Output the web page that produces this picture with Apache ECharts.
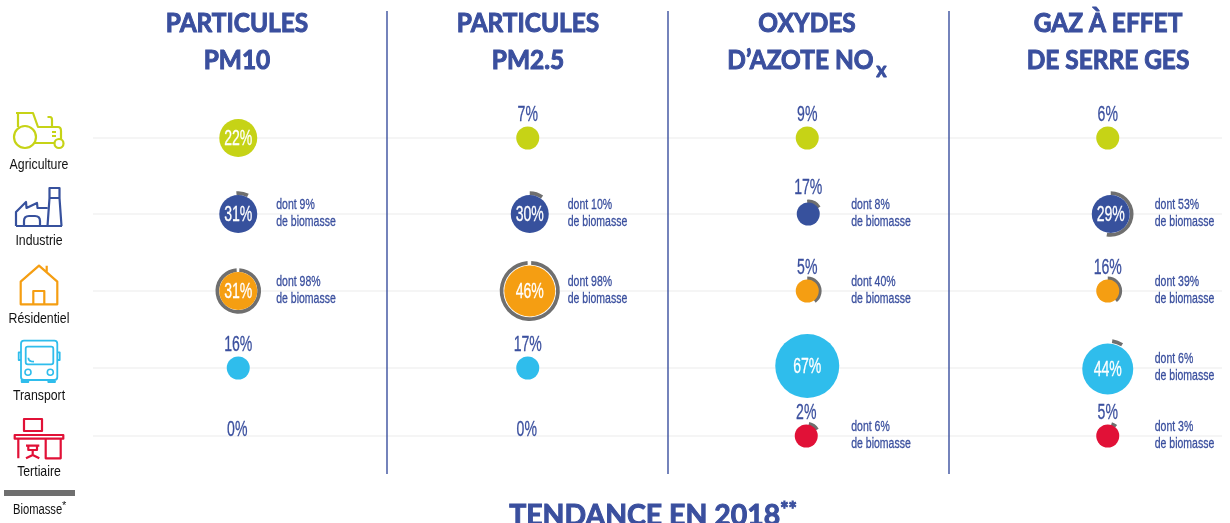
<!DOCTYPE html>
<html><head><meta charset="utf-8">
<style>html,body{margin:0;padding:0;background:#fff}#c{width:1230px;height:523px}</style>
<script src="https://cdn.jsdelivr.net/npm/echarts@6/dist/echarts.min.js"></script>
</head><body><div id="c"></div>
<script>
const sectors = ['Agriculture','Industrie','Résidentiel','Transport','Tertiaire'];
const panels = ['PM10','PM2.5','NOx','GES'];
const pm10 = [22,31,31,16,0];
const pm10Biomass = [0,9,98,0,0];
const pm25 = [7,30,46,17,0];
const pm25Biomass = [0,10,98,0,0];
const nox = [9,17,5,67,2];
const noxBiomass = [0,8,40,0,6];
const ges = [6,29,16,44,5];
const gesBiomass = [0,53,39,6,3];

const BLUE='#3a4f9e', GREY='#6f6f6f', FONT='"Liberation Sans",sans-serif', TITLE='Lato,sans-serif';
const sectorColors=['#c6d316','#37519d','#f59e12','#2fbdec','#e11137'];
const panelNudge=[4,9,4,20];
const rowNudge=[0,1,3,5,-2];
const cellNudge={'1,1':[2,0],'1,2':[2,0],'2,1':[1,0],'2,3':[0,-2],'2,4':[-1,0],'3,1':[3,0],'3,3':[0,1]};
const arcTurn={'0,1':-5,'2,1':-5,'3,3':9,'2,4':12,'3,4':17};

const seriesSets=[[pm10,pm10Biomass],[pm25,pm25Biomass],[nox,noxBiomass],[ges,gesBiomass]];
const cells=[];
seriesSets.forEach((s,p)=>s[0].forEach((v,r)=>cells.push([p,r,v,s[1][r]])));

function bubble(v){return v===0?0:v<20?11.5:v<35?19:v<50?25.5:32;}
function cond(x,y,text,size,fill,sx,align,weight){
  return {type:'group',x,y,scaleX:sx,z2:5,children:[{type:'text',style:{x:0,y:0,text,fill,stroke:weight?fill:null,lineWidth:weight||0,font:size+'px '+FONT,textAlign:align||'center',textVerticalAlign:'middle'},z2:5}]};
}
function renderCell(params,api){
  const p=api.value(0),r=api.value(1),v=api.value(2),b=api.value(3);
  const c=api.coord([p,r]);
  const key=p+','+r, n=cellNudge[key]||[0,0];
  const baseX=c[0]+panelNudge[p], rowY=c[1]+rowNudge[r];
  const x=baseX+n[0], y=rowY+n[1];
  const R=bubble(v), kids=[];
  if(b>0){
    const outer=R*1.12+1.5, off=b>=90?0.05:(arcTurn[key]||0)*Math.PI/180;
    const span=2*Math.PI*b/100*(R<12&&b<15?2.2:1);
    const start=-Math.PI/2+off;
    kids.push({type:'sector',shape:{cx:x,cy:y,r0:outer-3.7,r:outer,startAngle:start,endAngle:start+span,clockwise:true},style:{fill:GREY},z2:2});
  }
  if(R>0) kids.push({type:'circle',shape:{cx:x,cy:y,r:R},style:{fill:sectorColors[r]},z2:3});
  if(R>=19) kids.push(cond(x,y+0.5,v+'%',22,'#fff',0.64,'center',0.3));
  else if(v===0) kids.push(cond(baseX-1,rowY-6,v+'%',22,BLUE,0.64,'center',0.3));
  else kids.push(cond(x,y-(b>0&&r===1?26.5:23.5),v+'%',22,BLUE,0.64,'center',0.3));
  if(b>0){
    const lx=baseX+[38,40,44,47][p];
    kids.push(cond(lx,rowY-9,'dont '+b+'%',15,BLUE,0.7,'left',0.3));
    kids.push(cond(lx,rowY+7.5,'de biomasse',15,BLUE,0.7,'left',0.3));
  }
  return {type:'group',children:kids};
}
function renderRow(params,api){
  const y=api.coord([0,api.value(0)])[1]+rowNudge[api.value(0)];
  return {type:'line',shape:{x1:93,y1:y,x2:1222,y2:y},style:{stroke:'#f2f2f2',lineWidth:1.6}};
}
function path(d,color,w){return {type:'path',shape:{pathData:d},style:{fill:null,stroke:color,lineWidth:w||2.2,lineJoin:'round'}};}
function ring(cx,cy,r,color,w){return {type:'circle',shape:{cx,cy,r},style:{fill:null,stroke:color,lineWidth:w||2.2}};}
const iconShapes=[
 [path('M16 113H33L38 127H58Q61 127 61 131V140M18 113V127M35 143H55M47.5 117H50Q52 117 52 120V127M52 132H56M52 136H56',sectorColors[0]),ring(25,137,11,sectorColors[0]),ring(59,143.5,4.5,sectorColors[0])],
 [path('M16 226H62M16 226V212L26 202L26.5 208L37 203L37.5 208H47.5M47.5 226L49.5 198V188H59.5V198L61.5 226M49.5 198H59.5M24 226V221Q24 216 29 216H35Q40 216 40 221V226',sectorColors[1])],
 [path('M20.7 281.7L39 265.7L57.3 281.7V304.3H20.7ZM46.7 272V265.7M33.3 304V291H44.3V304',sectorColors[2])],
 [path('M24 340.7H54.3Q57.3 340.7 57.3 343.7V377Q57.3 380 54.3 380H24Q21 380 21 377V343.7Q21 340.7 24 340.7ZM27.7 346.7H51.3Q53.3 346.7 53.3 348.7V362.3Q53.3 364.3 51.3 364.3H27.7Q25.7 364.3 25.7 362.3V348.7Q25.7 346.7 27.7 346.7ZM21 352.3H18.7V360H21M57.3 352.3H59.7V360H57.3M21.7 380V382H28.3V380M48.3 380V382H55V380M28.3 357.7Q28.5 361.7 34 361.7',sectorColors[3],1.8),ring(28,372.3,3,sectorColors[3],1.6),ring(50.3,372.3,3,sectorColors[3],1.6)],
 [path('M24 419H42V431H24ZM14.7 435H63.3V438.7H14.7ZM18.3 438.7V458.3M45.7 438.7V458.3H60.7V438.7M26 445.7H39.3M28.3 446V450H37V446M32.7 450V455M26 458.3L32.7 455L39.3 458.3',sectorColors[4])]
];
function renderSector(params,api){
  const r=api.value(0);
  const y=[164.5,240.5,318.5,395.5,471.5][r];
  return {type:'group',children:[...iconShapes[r],cond(39,y,sectors[r],15,'#111',0.82)]};
}
const seps=[387,668,949].map(x=>({type:'line',z:2,shape:{x1:x,y1:11,x2:x,y2:474},style:{stroke:BLUE,lineWidth:1.4}}));
function titleText(text,x,y,size,sx){
  return {type:'group',x,y,scaleX:sx,children:[{type:'text',style:{x:0,y:0,text,fill:BLUE,stroke:BLUE,lineWidth:1,
    font:'bold '+size+'px '+TITLE,align:'center',verticalAlign:'middle',
    rich:{x:{font:'bold 21px '+TITLE,fill:BLUE,stroke:BLUE,lineWidth:1,padding:[18,0,0,3]},s:{font:'bold 20px '+TITLE,fill:BLUE,padding:[0,0,10,0]}}}}]};
}
const titleLines=[['PARTICULES','PM10',237],['PARTICULES','PM2.5',528],['OXYDES','D’AZOTE NO{x|x}',807],['GAZ À EFFET','DE SERRE GES',1108]];
const titleEls=[];
titleLines.forEach(t=>{titleEls.push(titleText(t[0],t[2],24,26,0.94));titleEls.push(titleText(t[1],t[2],61,26,0.94));});
titleEls.push(titleText('TENDANCE EN 2018{s|**}',653,516,29,0.98));

const chart=echarts.init(document.getElementById('c'));
chart.setOption({
  animation:false,backgroundColor:'#fff',
  grid:{left:92,top:100.5,width:1138,height:375},
  xAxis:{type:'category',data:panels,show:false},
  yAxis:{type:'category',data:sectors,inverse:true,show:false},
  graphic:[...seps,...titleEls,
    {type:'rect',shape:{x:4,y:490,width:71,height:6},style:{fill:GREY}},
    {type:'group',x:13,y:510,scaleX:0.8,children:[{type:'text',style:{x:0,y:0,text:'Biomasse',fill:'#111',font:'14px '+FONT,textVerticalAlign:'middle'}}]},
    {type:'text',style:{x:62,y:506,text:'*',fill:'#111',font:'11px '+FONT,textVerticalAlign:'middle'}}
  ],
  series:[
    {type:'custom',coordinateSystem:'cartesian2d',data:sectors.map((s,i)=>[i]),encode:{y:0},renderItem:renderRow,z:0,silent:true,clip:false},
    {type:'custom',coordinateSystem:'cartesian2d',data:sectors.map((s,i)=>[i]),encode:{y:0},renderItem:renderSector,z:2,silent:true,clip:false},
    {type:'custom',coordinateSystem:'cartesian2d',data:cells,encode:{x:0,y:1},renderItem:renderCell,z:3,silent:true,clip:false}
  ]
});
</script></body></html>
